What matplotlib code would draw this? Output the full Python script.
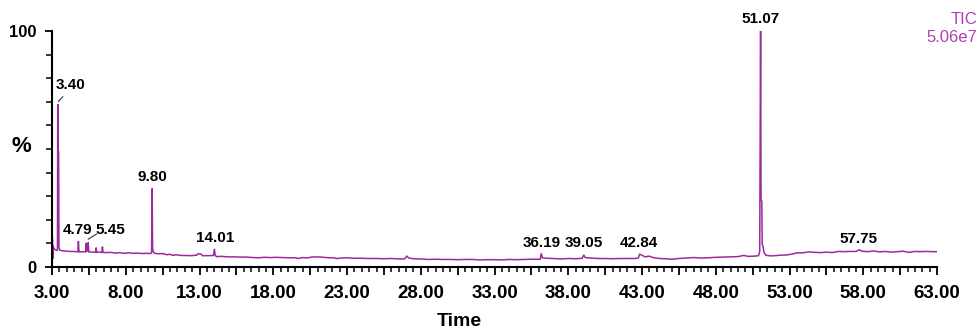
"""
Cromatograma TIC (recreación) — intensidad relativa vs tiempo de retención.
"""

import matplotlib
matplotlib.use("Agg")
import matplotlib.pyplot as plt
from matplotlib.ticker import FixedLocator, MultipleLocator, FuncFormatter
import numpy as np

tiempo = [
    3.00, 3.02, 3.04, 3.06, 3.08, 3.11, 3.16, 3.24, 3.32, 3.37, 3.39, 3.41, 3.45, 3.47,
    3.52, 3.65, 3.80, 4.00, 4.20, 4.40, 4.60, 4.75, 4.79, 4.83, 5.00, 5.28, 5.31, 5.35,
    5.40, 5.45, 5.50, 5.70, 5.95, 5.99, 6.03, 6.20, 6.38, 6.42, 6.46, 6.70, 7.00, 7.30,
    7.60, 7.90, 8.20, 8.50, 8.80, 9.10, 9.40, 9.70, 9.75, 9.77, 9.79, 9.82, 9.86, 9.95,
    10.20, 10.50, 10.80, 11.00, 11.20, 11.40, 11.70, 12.00, 12.40, 12.80, 12.90, 13.10,
    13.20, 13.60, 13.95, 14.01, 14.06, 14.15, 14.50, 14.90, 15.30, 15.80, 16.20, 16.60,
    17.00, 17.40, 17.80, 18.20, 18.60, 19.00, 19.50, 19.70, 20.00, 20.30, 20.60, 21.00,
    21.40, 21.80, 22.10, 22.30, 22.60, 23.00, 23.50, 24.00, 24.50, 25.00, 25.50, 26.00,
    26.50, 26.90, 27.05, 27.20, 27.50, 28.00, 28.50, 29.00, 29.50, 30.00, 30.50, 31.00,
    31.50, 32.00, 32.50, 33.00, 33.50, 34.00, 34.50, 35.00, 35.50, 36.10, 36.17, 36.25,
    36.50, 37.00, 37.50, 38.00, 38.50, 38.95, 39.05, 39.15, 39.50, 40.00, 40.50, 41.00,
    41.50, 42.00, 42.50, 42.75, 42.84, 43.00, 43.20, 43.50, 43.80, 44.20, 44.60, 45.00,
    45.50, 46.00, 46.50, 47.00, 47.50, 48.00, 48.50, 49.00, 49.50, 49.90, 50.20, 50.60,
    50.90, 50.98, 51.04, 51.07, 51.12, 51.15, 51.20, 51.28, 51.40, 51.70, 52.00, 52.40,
    52.80, 53.20, 53.50, 53.90, 54.30, 54.70, 55.10, 55.50, 55.90, 56.30, 56.70, 57.10,
    57.50, 57.75, 57.90, 58.30, 58.70, 59.10, 59.50, 59.90, 60.30, 60.70, 61.10, 61.50,
    61.90, 62.30, 62.70, 63.00,
]
intensidad = [
    10.5, 13.5, 11.0, 3.5, 9.0, 8.2, 7.6, 7.3, 7.1, 7.0, 69.0, 49.5, 49.0, 8.5,
    7.2, 6.9, 6.8, 6.7, 6.6, 6.6, 6.5, 6.5, 11.0, 6.4, 6.5, 6.4, 10.2, 6.8,
    6.8, 10.4, 6.4, 6.3, 6.3, 8.2, 6.2, 6.4, 6.1, 8.6, 6.2, 6.1, 6.2, 5.9,
    6.1, 5.8, 6.0, 5.8, 5.9, 5.7, 5.8, 5.7, 6.2, 17.5, 33.3, 8.0, 6.5, 5.8,
    5.6, 5.7, 5.2, 5.4, 4.9, 5.2, 4.9, 4.9, 4.8, 5.0, 5.6, 5.5,
    4.8, 4.8, 4.9, 7.7, 5.0, 4.4, 4.5, 4.3, 4.3, 4.2, 4.2, 4.0,
    3.9, 4.1, 4.0, 4.1, 4.0, 3.9, 3.9, 3.6, 4.0, 3.8, 4.2, 4.3,
    4.1, 3.9, 3.9, 3.6, 3.8, 3.9, 3.7, 3.7, 3.6, 3.6, 3.5, 3.6,
    3.4, 3.4, 4.6, 3.8, 3.5, 3.4, 3.2, 3.3, 3.2, 3.2, 3.1, 3.2,
    3.2, 3.0, 3.1, 3.1, 3.0, 3.2, 3.1, 3.2, 3.3, 3.3, 5.8, 3.9,
    3.7, 3.6, 3.4, 3.6, 3.5, 3.7, 5.1, 4.0, 3.8, 3.6, 3.6, 3.5,
    3.6, 3.6, 3.6, 3.8, 5.4, 5.0, 4.3, 4.6, 3.9, 3.6, 3.5, 3.3,
    3.6, 3.8, 4.0, 3.8, 3.9, 4.1, 4.2, 4.3, 4.4, 4.9, 4.5, 4.6,
    4.8, 6.5, 100.0, 28.5, 28.0, 9.5, 8.8, 6.0, 5.0, 4.7, 4.8, 5.0,
    5.1, 5.5, 6.0, 6.0, 6.4, 6.2, 6.1, 6.3, 6.1, 6.6, 6.5, 6.6,
    6.6, 7.3, 6.7, 6.5, 6.8, 6.4, 6.6, 6.3, 6.5, 6.7, 6.2, 6.6,
    6.5, 6.6, 6.5, 6.5,
]

# Etiquetas de picos (texto, posición en tiempo, posición en %)
etiquetas_pico = ["3.40", "4.79", "5.45", "9.80", "14.01", "36.19", "39.05", "42.84", "51.07", "57.75"]
etiqueta_x = [4.25, 4.76, 6.93, 9.81, 14.05, 36.20, 39.03, 42.76, 51.03, 57.71]
etiqueta_y = [77.0, 15.6, 15.6, 38.0, 12.4, 10.1, 10.1, 10.1, 104.9, 11.8]

# Líneas guía (x0, y0, x1, y1) para 3.40 y 5.45
guia_x0 = [3.43, 5.46]
guia_y0 = [70.2, 11.8]
guia_x1 = [3.73, 6.03]
guia_y1 = [72.1, 14.0]

COLOR_TIC = "#9C2A9C"
FUENTE = ["Liberation Sans Narrow", "Liberation Sans", "DejaVu Sans"]

W, H = 979, 331
fig = plt.figure(figsize=(W / 100, H / 100), dpi=100)
ax = fig.add_axes([52 / W, 1 - 267 / H, (937 - 52) / W, (267 - 31) / H])

ax.plot(tiempo, intensidad, color=COLOR_TIC, lw=1.1, solid_joinstyle="miter")

for txt, x, y in zip(etiquetas_pico, etiqueta_x, etiqueta_y):
    ax.text(x, y, txt, ha="center", va="center", fontsize=11, fontweight="bold",
            family=FUENTE, color="black", clip_on=False)
for x0, y0, x1, y1 in zip(guia_x0, guia_y0, guia_x1, guia_y1):
    ax.plot([x0, x1], [y0, y1], color="#333333", lw=0.8)

ax.set_xlim(3, 63)
ax.set_ylim(0, 100)

# Ejes estilo MassLynx
for s in ("top", "right"):
    ax.spines[s].set_visible(False)
for s in ("left", "bottom"):
    ax.spines[s].set_linewidth(1.5)

ax.xaxis.set_major_locator(FixedLocator(np.arange(3, 63.01, 2.5)))
ax.xaxis.set_minor_locator(MultipleLocator(0.5))
ax.xaxis.set_major_formatter(FuncFormatter(
    lambda v, _: f"{v:.2f}" if abs((v - 3) % 5) < 1e-6 else ""))
ax.yaxis.set_major_locator(FixedLocator([0, 100]))
ax.yaxis.set_minor_locator(MultipleLocator(10))

ax.tick_params(axis="x", which="major", length=6, width=1.3, pad=7)
ax.tick_params(axis="x", which="minor", length=3.5, width=1.1)
ax.tick_params(axis="y", which="major", length=5, width=1.3, pad=6)
ax.tick_params(axis="y", which="minor", length=4, width=1.1)

for lab in ax.get_xticklabels():
    lab.set_fontsize(13.5)
    lab.set_fontweight("bold")
    lab.set_family(FUENTE)
for lab in ax.get_yticklabels():
    lab.set_fontsize(12)
    lab.set_fontweight("bold")
    lab.set_family(FUENTE)

fig.text(21 / W, 1 - 147 / H, "%", ha="center", va="center", fontsize=16,
         fontweight="bold", family=FUENTE)
fig.text(459 / W, 1 - 322 / H, "Time", ha="center", va="center", fontsize=14,
         fontweight="bold", family=FUENTE)
fig.text(977 / W, 1 - 20 / H, "TIC", ha="right", va="center", fontsize=12,
         color="#B040B0", family=["Liberation Sans", "DejaVu Sans"])
fig.text(977 / W, 1 - 37 / H, "5.06e7", ha="right", va="center", fontsize=12,
         color="#B040B0", family=["Liberation Sans", "DejaVu Sans"])

fig.savefig("out.png", dpi=100)
plt.close("all")
